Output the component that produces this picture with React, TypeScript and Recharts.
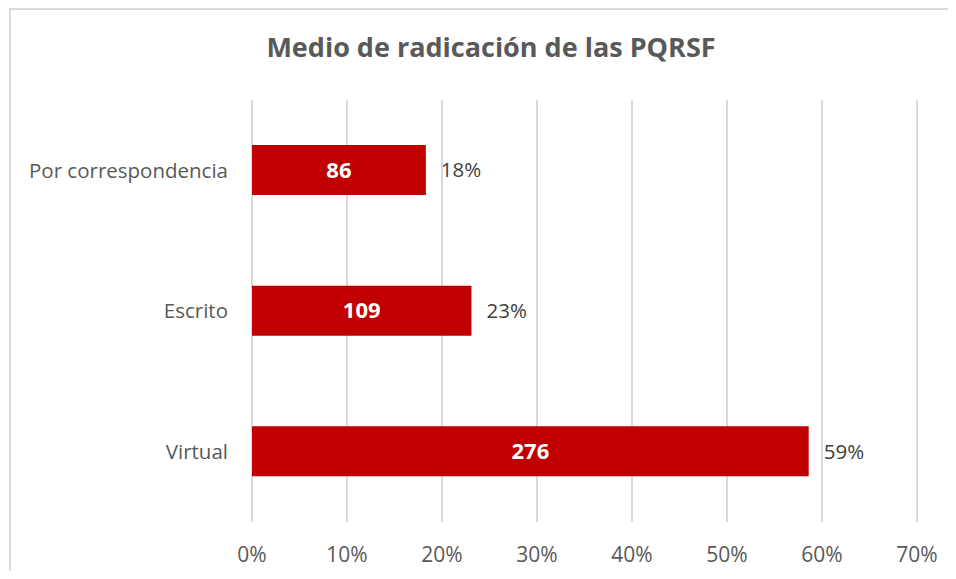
import React from 'react';
import { BarChart, Bar, XAxis, YAxis, CartesianGrid, LabelList } from 'recharts';

const categories = ['Por correspondencia', 'Escrito', 'Virtual'];
const counts = [86, 109, 276];
const shares = [18.3, 23.1, 58.6];
const shareLabels = ['18%', '23%', '59%'];
const xTicks = [0, 10, 20, 30, 40, 50, 60, 70];

const data = categories.map((name, i) => ({
    name,
    count: counts[i],
    share: shares[i],
    shareLabel: shareLabels[i],
}));

const FONT = '"Open Sans", "Liberation Sans", sans-serif';

const App: React.FC = () => {
    return (
        <div style={{ position: 'relative', width: 948, height: 563, fontFamily: FONT }}>
            <style>{'html, body { overflow: hidden; }'}</style>
            {/* outer frame, only top and left edges are visible */}
            <div
                style={{
                    position: 'absolute',
                    left: 1,
                    top: 0,
                    width: 947,
                    height: 571,
                    borderTop: '2px solid #d9d9d9',
                    borderLeft: '2px solid #d9d9d9',
                    boxSizing: 'border-box',
                }}
            />
            <div
                style={{
                    position: 'absolute',
                    left: 0,
                    top: 20,
                    width: 948,
                    paddingLeft: 18,
                    boxSizing: 'border-box',
                    textAlign: 'center',
                    fontSize: 27,
                    fontWeight: 'bold',
                    color: '#595959',
                }}
            >
                Medio de radicación de las PQRSF
            </div>
            <BarChart
                width={948}
                height={563}
                data={data}
                layout="vertical"
                margin={{ top: 92, right: 39, bottom: 9, left: 0 }}
                barCategoryGap={45}
                style={{ position: 'absolute', left: 0, top: 0 }}
            >
                <CartesianGrid horizontal={false} stroke="#d9d9d9" strokeWidth={2} />
                <XAxis
                    type="number"
                    domain={[0, 70]}
                    ticks={xTicks}
                    tickFormatter={(v: number) => `${v}%`}
                    axisLine={false}
                    tickLine={false}
                    tickSize={0}
                    tickMargin={25}
                    height={40}
                    interval={0}
                    tick={{ fill: '#595959', fontSize: 21, fontFamily: FONT }}
                />
                <YAxis
                    type="category"
                    dataKey="name"
                    width={244}
                    axisLine={false}
                    tickLine={false}
                    tickSize={0}
                    tickMargin={24}
                    tick={{ fill: '#595959', fontSize: 20.5, fontFamily: FONT }}
                />
                <Bar dataKey="share" fill="#c00000" barSize={50} isAnimationActive={false}>
                    <LabelList
                        dataKey="count"
                        position="center"
                        fill="#ffffff"
                        fontSize={22}
                        fontWeight="bold"
                        fontFamily={FONT}
                    />
                    <LabelList
                        dataKey="shareLabel"
                        position="right"
                        offset={15}
                        fill="#404040"
                        fontSize={20.5}
                        fontFamily={FONT}
                    />
                </Bar>
            </BarChart>
        </div>
    );
};

export default App;
